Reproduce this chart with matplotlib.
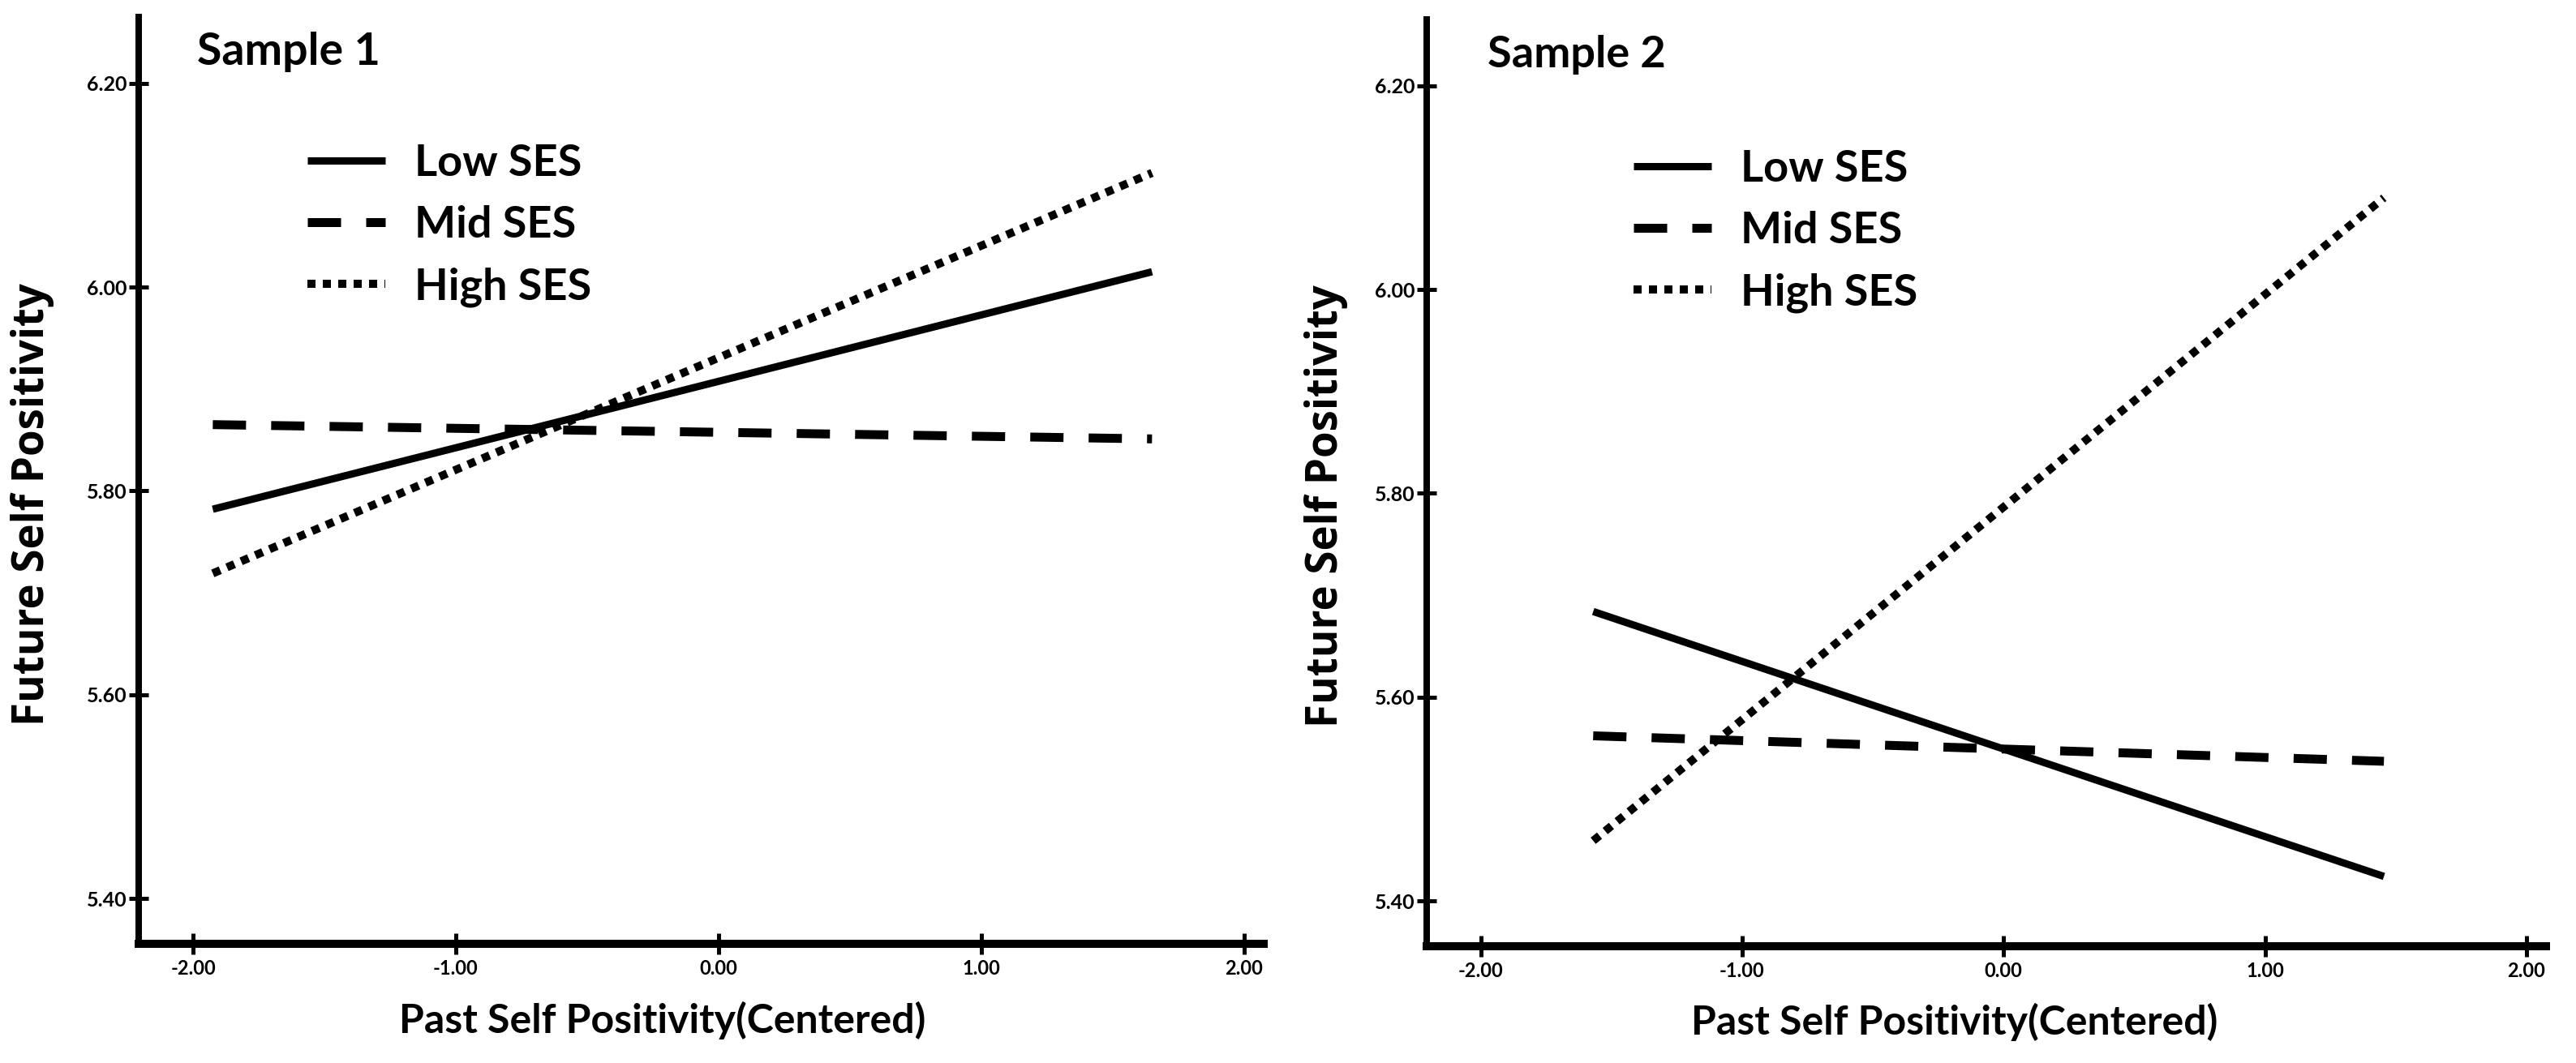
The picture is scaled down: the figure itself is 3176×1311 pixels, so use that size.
import matplotlib
matplotlib.use("Agg")
import matplotlib.pyplot as plt
from matplotlib import font_manager

# ---------------- data ----------------
x_ticks = [-2.0, -1.0, 0.0, 1.0, 2.0]
y_ticks = [5.40, 5.60, 5.80, 6.00, 6.20]
series_labels = ["Low SES", "Mid SES", "High SES"]

x_s1 = [-1.925, 1.65]
low_s1 = [5.782, 6.015]
mid_s1 = [5.865, 5.851]
high_s1 = [5.719, 6.112]

x_s2 = [-1.57, 1.455]
low_s2 = [5.684, 5.424]
mid_s2 = [5.562, 5.537]
high_s2 = [5.459, 6.090]

titles = ["Sample 1", "Sample 2"]
xlabel = "Past Self Positivity(Centered)"
ylabel = "Future Self Positivity"

# ---------------- style ----------------
avail = {f.name for f in font_manager.fontManager.ttflist}
FONT = "Lato" if "Lato" in avail else "DejaVu Sans"
YFONT = "Open Sans" if "Open Sans" in avail else FONT
plt.rcParams["font.family"] = [FONT, "DejaVu Sans"]
plt.rcParams["font.weight"] = "bold"
plt.rcParams["lines.scale_dashes"] = False

W, H = 3176, 1311
DPI = 100
PX = 72.0 / DPI  # points per pixel

fig = plt.figure(figsize=(W / DPI, H / DPI), dpi=DPI)
fig.patch.set_facecolor("white")


def fx(px):
    return px / W


def fy(py):
    return 1 - py / H


styles = [
    dict(linestyle="-", linewidth=9 * PX, solid_capstyle="butt"),
    dict(linestyle=(0, (41 * PX, 31 * PX)), linewidth=11 * PX, dash_capstyle="butt"),
    dict(linestyle=(0, (10 * PX, 9 * PX)), linewidth=10 * PX, dash_capstyle="butt"),
]

panels = [
    dict(box=(171, 1558, 21, 1164), x=x_s1, ys=[low_s1, mid_s1, high_s1],
         title_xy=(243, 80), title_fs=40, leg=(379, 177), xl=(817, 1258), yl=(40, 622)),
    dict(box=(1759, 3139, 24, 1167), x=x_s2, ys=[low_s2, mid_s2, high_s2],
         title_xy=(1834, 83), title_fs=39, leg=(2014, 184), xl=(2410, 1260), yl=(1635, 624)),
]

for p, title in zip(panels, titles):
    x0, x1, y0, y1 = p["box"]
    ax = fig.add_axes([fx(x0), fy(y1), fx(x1) - fx(x0), fy(y0) - fy(y1)])
    for yv, lab, st in zip(p["ys"], series_labels, styles):
        ax.plot(p["x"], yv, color="black", label=lab, **st)
    ax.set_xlim(-2.207, 2.075)
    ax.set_ylim(5.3555, 6.265)
    ax.set_xticks(x_ticks)
    ax.set_xticklabels([f"{v:.2f}" for v in x_ticks])
    ax.set_yticks(y_ticks)
    ax.set_yticklabels([f"{v:.2f}" for v in y_ticks])
    for s in ["top", "right"]:
        ax.spines[s].set_visible(False)
    ax.spines["left"].set_linewidth(8 * PX)
    ax.spines["bottom"].set_linewidth(10 * PX)
    ax.tick_params(axis="x", direction="inout", length=26 * PX, width=5 * PX,
                   pad=4, labelsize=17)
    ax.tick_params(axis="y", direction="inout", length=24 * PX, width=5 * PX,
                   pad=2, labelsize=18)
    for t in ax.get_xticklabels() + ax.get_yticklabels():
        t.set_fontweight("bold")
    ax.set_facecolor("none")

    # panel title
    fig.text(fx(p["title_xy"][0]), fy(p["title_xy"][1]), title, fontsize=p["title_fs"],
             fontweight="bold", ha="left", va="baseline")
    # axis labels
    fig.text(fx(p["xl"][0]), fy(p["xl"][1]), xlabel, fontsize=36,
             fontweight="bold", ha="center", va="center")
    fig.text(fx(p["yl"][0]), fy(p["yl"][1]), ylabel, fontsize=38,
             fontweight="bold", ha="center", va="center", rotation=90,
             family=[YFONT, "DejaVu Sans"])
    # legend
    lx, ly = p["leg"]
    ax.legend(loc="upper left", bbox_to_anchor=(fx(lx), fy(ly)),
              bbox_transform=fig.transFigure, frameon=False,
              prop=dict(size=39, weight="bold"), handlelength=1.78,
              handletextpad=0.66, labelspacing=0.5, borderpad=0,
              borderaxespad=0)

fig.savefig("out.png", dpi=DPI, facecolor="white")
